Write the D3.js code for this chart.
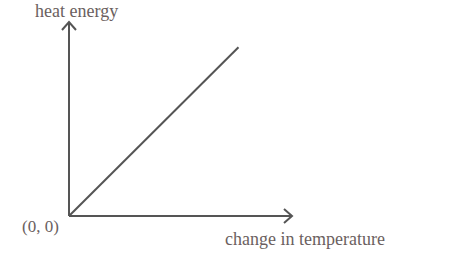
<!DOCTYPE html>
<html>
<head>
<meta charset="utf-8">
<script src="https://cdn.jsdelivr.net/npm/d3@7"></script>
<style>
  body { margin: 0; background: #fff; }
  text { font-family: "Liberation Serif", serif; fill: #6b5f60; }
</style>
</head>
<body>
<div id="chart"></div>
<script>
// data: heat energy rises linearly with change in temperature
const temperature = [0, 76];
const heatEnergy = [0, 87];
const axisMax = 100;
const originLabel = "(0, 0)";
const xTitle = "change in temperature";
const yTitle = "heat energy";

const width = 474, height = 264;
const margin = {top: 22, right: 182, bottom: 48, left: 69};

const svg = d3.select("#chart")
  .append("svg")
    .attr("width", width)
    .attr("height", height);

const x = d3.scaleLinear()
  .domain([0, axisMax])
  .range([margin.left, width - margin.right]);

const y = d3.scaleLinear()
  .domain([0, axisMax])
  .range([height - margin.bottom, margin.top]);

const ink = "#555";

// axes as plain lines with open arrow heads
svg.append("line")
  .attr("x1", x(0)).attr("y1", y(0))
  .attr("x2", x(axisMax)).attr("y2", y(0))
  .attr("stroke", ink).attr("stroke-width", 2);
svg.append("line")
  .attr("x1", x(0)).attr("y1", y(0))
  .attr("x2", x(0)).attr("y2", y(axisMax))
  .attr("stroke", ink).attr("stroke-width", 2);

// arrow heads
svg.append("path")
  .attr("d", `M${x(axisMax) - 8},${y(0) - 7} L${x(axisMax)},${y(0)} L${x(axisMax) - 8},${y(0) + 7}`)
  .attr("fill", "none").attr("stroke", ink).attr("stroke-width", 2);
svg.append("path")
  .attr("d", `M${x(0) - 7},${y(axisMax) + 8} L${x(0)},${y(axisMax)} L${x(0) + 7},${y(axisMax) + 8}`)
  .attr("fill", "none").attr("stroke", ink).attr("stroke-width", 2);

// the data line
const line = d3.line()
  .x((d, i) => x(temperature[i]))
  .y((d, i) => y(heatEnergy[i]));

svg.append("path")
  .datum(temperature)
  .attr("d", line)
  .attr("fill", "none")
  .attr("stroke", ink)
  .attr("stroke-width", 2);

// labels
svg.append("text")
  .attr("x", 35).attr("y", 17)
  .style("font-size", "18px")
  .text(yTitle);

svg.append("text")
  .attr("x", 22).attr("y", 232)
  .style("font-size", "17px")
  .text(originLabel);

svg.append("text")
  .attr("x", 225).attr("y", 245)
  .style("font-size", "18px")
  .text(xTitle);
</script>
</body>
</html>
